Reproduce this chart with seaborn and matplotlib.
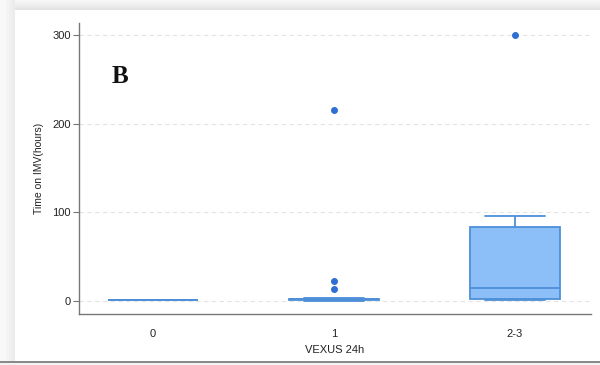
import matplotlib
matplotlib.use("Agg")
import matplotlib.pyplot as plt
import numpy as np
import pandas as pd
import seaborn as sns
from matplotlib.patches import Rectangle

# Categories and per-group observations (hours on invasive mechanical ventilation)
groups = ["0", "1", "2-3"]
hours_0 = [1, 1, 1, 1]
hours_1 = [0, 1, 1, 1, 1, 1, 1, 2, 2, 2, 2, 2, 2, 3, 14, 23, 215]
hours_23 = [1, 1, 2, 8, 15, 48, 83, 96, 300]
y_ticks = [0, 100, 200, 300]
panel_label = "B"

df = pd.DataFrame({
    "VEXUS 24h": ["0"] * len(hours_0) + ["1"] * len(hours_1) + ["2-3"] * len(hours_23),
    "Time on IMV(hours)": hours_0 + hours_1 + hours_23,
})

sns.set_theme(style="white")
plt.rcParams["font.family"] = ["Liberation Sans", "DejaVu Sans"]

W, H = 600, 365
fig = plt.figure(figsize=(W / 100, H / 100), dpi=100, facecolor="white")

# soft frame around the white card
def px_rect(x0, y0, x1, y1, color, z=0):
    fig.patches.append(Rectangle((x0 / W, 1 - y1 / H), (x1 - x0) / W, (y1 - y0) / H,
                                 transform=fig.transFigure, color=color, zorder=z, lw=0))

for i, c in enumerate(["#e4e4e4", "#e9e9e9", "#eeeeee", "#f2f2f2", "#f6f6f6"]):
    px_rect(0, 0, W, 10 - 2 * i, c)
for i, c in enumerate(["#ececec", "#f0f0f0", "#f4f4f4", "#f8f8f8"]):
    px_rect(0, 0, 15 - 3 * i, H, c)
px_rect(0, 361, W, 362.5, "#8a8a8a")
px_rect(0, 362.5, W, H, "#f2f2f2")

fill = "#8cbff7"
edge = "#4d8fd8"
dot = "#2f6fd3"

ax = fig.add_axes([79 / W, 1 - 314 / H, 512 / W, 291 / H])
ax.set_facecolor("none")
sns.boxplot(
    data=df, x="VEXUS 24h", y="Time on IMV(hours)", order=groups, ax=ax,
    width=0.5, color=fill, linecolor=edge, linewidth=1.3, saturation=1,
    fliersize=4, capwidths=0.33,
    flierprops=dict(marker="o", markerfacecolor=dot, markeredgecolor=dot),
)

ax.set_xlim(-0.41, 2.42)
ax.set_ylim(-14.7, 313.5)
ax.set_yticks(y_ticks)
ax.yaxis.grid(True, linestyle=(0, (4, 3)), color="#e4e4e4", linewidth=0.8)
ax.set_axisbelow(True)

for s in ["top", "right"]:
    ax.spines[s].set_visible(False)
for s in ["left", "bottom"]:
    ax.spines[s].set_color("#777777")
    ax.spines[s].set_linewidth(1.0)

ax.tick_params(axis="y", left=True, length=4, width=0.8, color="#777777",
               labelsize=8, pad=2, labelcolor="#222222")
ax.tick_params(axis="x", bottom=False, labelsize=8, pad=5, labelcolor="#222222")
ax.set_xlabel("VEXUS 24h", fontsize=8, color="#222222", labelpad=4)
ax.set_ylabel("Time on IMV(hours)", fontsize=7.5, color="#222222", labelpad=6)

fig.text(112 / W, 1 - 83 / H, panel_label, family=["Liberation Serif", "DejaVu Serif"],
         fontsize=18, fontweight="bold", color="#111111", ha="left", va="baseline")

fig.savefig("out.png", dpi=100, facecolor=fig.get_facecolor())
